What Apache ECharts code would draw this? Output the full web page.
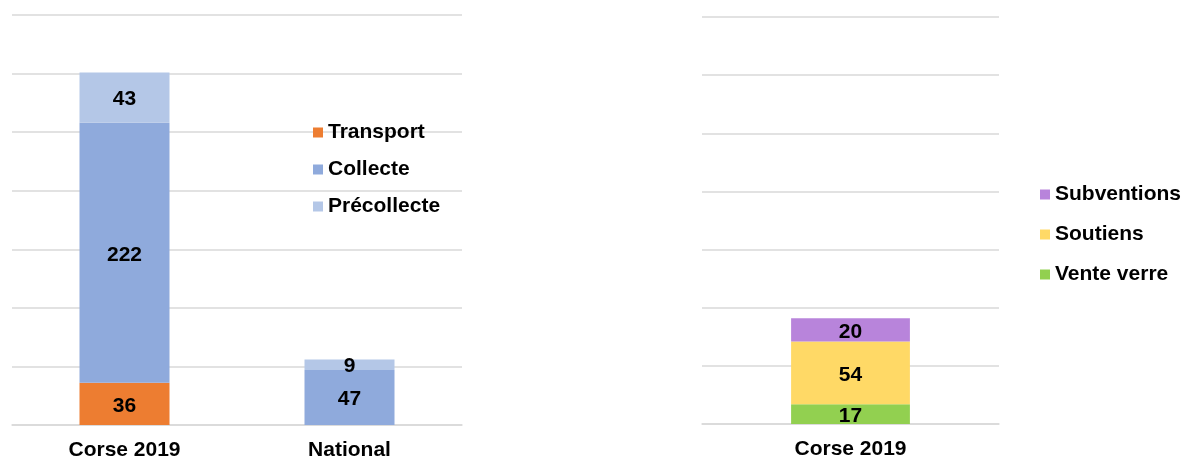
<!DOCTYPE html>
<html>
<head>
<meta charset="utf-8">
<script src="https://cdn.jsdelivr.net/npm/echarts@6/dist/echarts.min.js"></script>
<style>
  html, body { margin: 0; padding: 0; background: #fff; }
  #chart { width: 1184px; height: 458px; }
</style>
</head>
<body>
<div id="chart"></div>
<script>
// left chart: coût par habitant
var categoriesLeft = ['Corse 2019', 'National'];
var transport = [36, null];
var collecte = [222, 47];
var precollecte = [43, 9];

// right chart: recettes
var categoriesRight = ['Corse 2019'];
var venteVerre = [17];
var soutiens = [54];
var subventions = [20];

var FONT = 'Liberation Sans, Arial, sans-serif';
var GRID_COLOR = '#d9d9d9';
var FS = 21;

function valueAxis(idx) {
    return {
        type: 'value', gridIndex: idx, min: 0, max: 350, interval: 50,
        axisLabel: { show: false }, axisLine: { show: false }, axisTick: { show: false },
        splitLine: { lineStyle: { color: GRID_COLOR, width: 1.5 } }
    };
}
function catAxis(idx, data) {
    return {
        type: 'category', gridIndex: idx, data: data,
        axisTick: { show: false },
        axisLine: { lineStyle: { color: GRID_COLOR, width: 1.5 } },
        axisLabel: { color: '#000', fontFamily: FONT, fontWeight: 'bold', fontSize: FS, margin: 15 }
    };
}
function bar(name, data, color, stack, idx) {
    return {
        name: name, type: 'bar', stack: stack, data: data,
        xAxisIndex: idx, yAxisIndex: idx, barWidth: '40%',
        itemStyle: { color: color },
        label: { show: true, position: 'inside', offset: [0, 2], color: '#000', fontFamily: FONT, fontWeight: 'bold', fontSize: FS }
    };
}

var myChart = echarts.init(document.getElementById('chart'));
myChart.setOption({
    animation: false,
    grid: [
        { left: 12, width: 450, top: 15, bottom: 33, outerBoundsMode: 'none' },
        { left: 702, width: 297, top: 17, bottom: 34, outerBoundsMode: 'none' }
    ],
    xAxis: [catAxis(0, categoriesLeft), catAxis(1, categoriesRight)],
    yAxis: [valueAxis(0), valueAxis(1)],
    legend: [
        {
            data: ['Transport', 'Collecte', 'Précollecte'],
            orient: 'vertical', left: 308, top: 117, itemGap: 16,
            icon: 'rect', itemWidth: 10, itemHeight: 10,
            textStyle: { color: '#000', fontFamily: FONT, fontWeight: 'bold', fontSize: FS }
        },
        {
            data: ['Subventions', 'Soutiens', 'Vente verre'],
            orient: 'vertical', left: 1035, top: 179, itemGap: 19,
            icon: 'rect', itemWidth: 10, itemHeight: 10,
            textStyle: { color: '#000', fontFamily: FONT, fontWeight: 'bold', fontSize: FS }
        }
    ],
    series: [
        bar('Transport', transport, '#ED7D31', 'a', 0),
        bar('Collecte', collecte, '#8FAADC', 'a', 0),
        bar('Précollecte', precollecte, '#B4C7E7', 'a', 0),
        bar('Vente verre', venteVerre, '#92D050', 'b', 1),
        bar('Soutiens', soutiens, '#FFD966', 'b', 1),
        bar('Subventions', subventions, '#B884DB', 'b', 1)
    ]
});
</script>
</body>
</html>
